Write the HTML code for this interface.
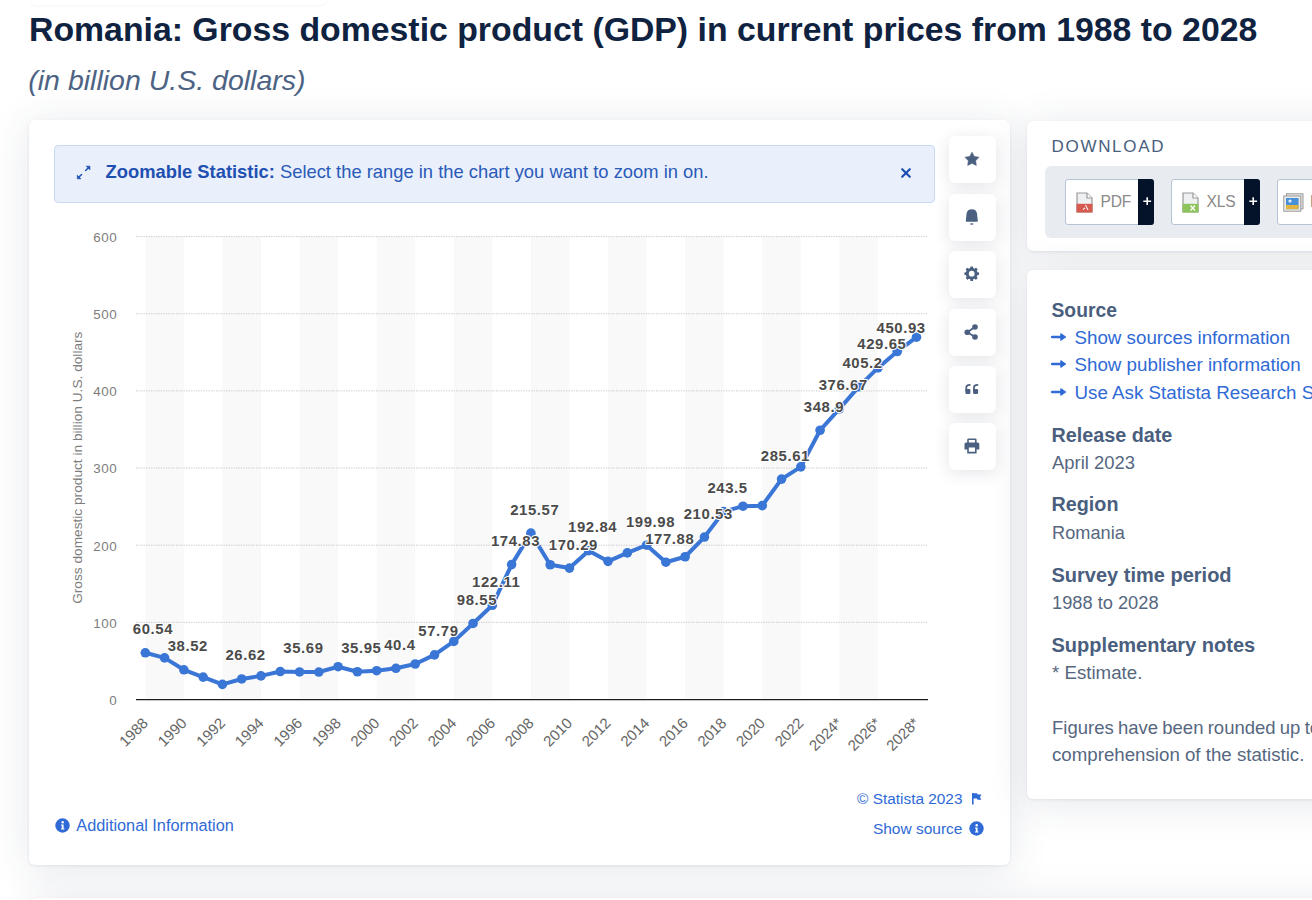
<!DOCTYPE html>
<html><head><meta charset="utf-8"><style>
html,body{margin:0;padding:0;}
body{width:1312px;height:900px;overflow:hidden;position:relative;background:#ffffff;font-family:"Liberation Sans",sans-serif;}
.t{position:absolute;white-space:nowrap;font-family:"Liberation Sans",sans-serif;}
.ab{position:absolute;overflow:visible;}
.card{position:absolute;background:#fff;border-radius:6px;box-shadow:0 1px 3px rgba(40,55,90,0.09), 0 4px 40px rgba(40,55,90,0.12);}
.chart{position:absolute;left:0;top:0;font-family:"Liberation Sans",sans-serif;}
.zoom{position:absolute;left:54px;top:145px;width:879px;height:56px;background:#e9f0fc;border:1px solid #c8d9f4;border-radius:4px;}
.sbtn{position:absolute;left:949px;width:47px;height:47px;background:#fff;border-radius:6px;box-shadow:0 3px 16px rgba(30,40,70,0.12);}
.sbtn svg{position:absolute;left:0;top:0;}
.grey{position:absolute;left:1045px;top:166px;width:400px;height:72px;background:#e8ebef;border-radius:6px;}
.dlb{position:absolute;top:179.3px;height:44px;background:#fff;border:1px solid #b7c4d6;border-radius:3px;}
.dlp{position:absolute;top:179.3px;height:46px;background:#04132a;border-radius:0 3px 3px 0;}
.dlp svg{position:absolute;left:0;top:0;}
</style></head><body>
<div style="position:absolute;left:31px;top:-40px;width:295px;height:45px;background:#fff;border-radius:5px;box-shadow:0 1px 3px rgba(30,40,70,0.05)"></div>
<div class="t" style="left:29.00px;top:13.29px;font-size:33.8px;line-height:33.8px;color:#0f2240;font-weight:bold;font-style:normal;">Romania: Gross domestic product (GDP) in current prices from 1988 to 2028</div>

<div class="t" style="left:28.30px;top:65.77px;font-size:28.5px;line-height:28.5px;color:#4d6384;font-weight:normal;font-style:italic;">(in billion U.S. dollars)</div>

<div class="card" style="left:29px;top:120px;width:981px;height:745px"></div>
<div class="card" style="left:1027px;top:121px;width:400px;height:130px"></div>
<div class="card" style="left:1027px;top:269.7px;width:400px;height:529px"></div>
<div class="card" style="left:30px;top:898px;width:1400px;height:100px"></div>
<div class="zoom"></div>
<svg class="ab" style="left:76px;top:165px" width="16" height="16" viewBox="0 0 16 16"><g fill="#1d4fb2" stroke="#1d4fb2" stroke-linejoin="round"><path d="M10.3 1.2 L13.9 1.2 L13.9 4.8 Z" stroke-width="0.7"/><path d="M12.2 2.9 L9.6 5.5" stroke-width="1.45" stroke-linecap="round"/><path d="M1.3 10.2 L1.3 13.8 L4.9 13.8 Z" stroke-width="0.7"/><path d="M3 12.1 L5.6 9.5" stroke-width="1.45" stroke-linecap="round"/></g></svg>
<div class="t" style="left:105.50px;top:163.04px;font-size:18.38px;line-height:18.38px;color:#2a5ab8;font-weight:normal;font-style:normal;"><b style=color:#1f4fb1>Zoomable Statistic:</b> Select the range in the chart you want to zoom in on.</div>

<svg class="ab" style="left:901px;top:167.5px" width="10" height="10" viewBox="0 0 10 10"><path d="M1.2 1.2 L8.8 8.8 M8.8 1.2 L1.2 8.8" stroke="#1d4fb2" stroke-width="2.2" stroke-linecap="round"/></svg>
<svg class="chart" width="1312" height="900" viewBox="0 0 1312 900">
<rect x="145.30" y="237" width="38.56" height="461.5" fill="#f9f9f9"/>
<rect x="222.42" y="237" width="38.56" height="461.5" fill="#f9f9f9"/>
<rect x="299.54" y="237" width="38.56" height="461.5" fill="#f9f9f9"/>
<rect x="376.66" y="237" width="38.56" height="461.5" fill="#f9f9f9"/>
<rect x="453.78" y="237" width="38.56" height="461.5" fill="#f9f9f9"/>
<rect x="530.90" y="237" width="38.56" height="461.5" fill="#f9f9f9"/>
<rect x="608.02" y="237" width="38.56" height="461.5" fill="#f9f9f9"/>
<rect x="685.14" y="237" width="38.56" height="461.5" fill="#f9f9f9"/>
<rect x="762.26" y="237" width="38.56" height="461.5" fill="#f9f9f9"/>
<rect x="839.38" y="237" width="38.56" height="461.5" fill="#f9f9f9"/>
<line x1="136" y1="622.35" x2="927" y2="622.35" stroke="#c9c9c9" stroke-width="1" stroke-dasharray="1.3 1.2"/>
<line x1="136" y1="545.20" x2="927" y2="545.20" stroke="#c9c9c9" stroke-width="1" stroke-dasharray="1.3 1.2"/>
<line x1="136" y1="468.05" x2="927" y2="468.05" stroke="#c9c9c9" stroke-width="1" stroke-dasharray="1.3 1.2"/>
<line x1="136" y1="390.90" x2="927" y2="390.90" stroke="#c9c9c9" stroke-width="1" stroke-dasharray="1.3 1.2"/>
<line x1="136" y1="313.75" x2="927" y2="313.75" stroke="#c9c9c9" stroke-width="1" stroke-dasharray="1.3 1.2"/>
<line x1="136" y1="236.60" x2="927" y2="236.60" stroke="#c9c9c9" stroke-width="1" stroke-dasharray="1.3 1.2"/>
<line x1="136" y1="699.7" x2="928" y2="699.7" stroke="#1c1c1c" stroke-width="1.3"/>
<text x="117.2" y="704.90" text-anchor="end" font-size="13.4" letter-spacing="0.5" fill="#7d7d7d">0</text>
<text x="117.2" y="627.75" text-anchor="end" font-size="13.4" letter-spacing="0.5" fill="#7d7d7d">100</text>
<text x="117.2" y="550.60" text-anchor="end" font-size="13.4" letter-spacing="0.5" fill="#7d7d7d">200</text>
<text x="117.2" y="473.45" text-anchor="end" font-size="13.4" letter-spacing="0.5" fill="#7d7d7d">300</text>
<text x="117.2" y="396.30" text-anchor="end" font-size="13.4" letter-spacing="0.5" fill="#7d7d7d">400</text>
<text x="117.2" y="319.15" text-anchor="end" font-size="13.4" letter-spacing="0.5" fill="#7d7d7d">500</text>
<text x="117.2" y="242.00" text-anchor="end" font-size="13.4" letter-spacing="0.5" fill="#7d7d7d">600</text>
<text transform="translate(81.6 467.7) rotate(-90)" text-anchor="middle" font-size="13.7" fill="#7d7d7d">Gross domestic product in billion U.S. dollars</text>
<text transform="translate(149.00 724) rotate(-45)" text-anchor="end" font-size="15" fill="#666">1988</text>
<text transform="translate(187.56 724) rotate(-45)" text-anchor="end" font-size="15" fill="#666">1990</text>
<text transform="translate(226.12 724) rotate(-45)" text-anchor="end" font-size="15" fill="#666">1992</text>
<text transform="translate(264.68 724) rotate(-45)" text-anchor="end" font-size="15" fill="#666">1994</text>
<text transform="translate(303.24 724) rotate(-45)" text-anchor="end" font-size="15" fill="#666">1996</text>
<text transform="translate(341.80 724) rotate(-45)" text-anchor="end" font-size="15" fill="#666">1998</text>
<text transform="translate(380.36 724) rotate(-45)" text-anchor="end" font-size="15" fill="#666">2000</text>
<text transform="translate(418.92 724) rotate(-45)" text-anchor="end" font-size="15" fill="#666">2002</text>
<text transform="translate(457.48 724) rotate(-45)" text-anchor="end" font-size="15" fill="#666">2004</text>
<text transform="translate(496.04 724) rotate(-45)" text-anchor="end" font-size="15" fill="#666">2006</text>
<text transform="translate(534.60 724) rotate(-45)" text-anchor="end" font-size="15" fill="#666">2008</text>
<text transform="translate(573.16 724) rotate(-45)" text-anchor="end" font-size="15" fill="#666">2010</text>
<text transform="translate(611.72 724) rotate(-45)" text-anchor="end" font-size="15" fill="#666">2012</text>
<text transform="translate(650.28 724) rotate(-45)" text-anchor="end" font-size="15" fill="#666">2014</text>
<text transform="translate(688.84 724) rotate(-45)" text-anchor="end" font-size="15" fill="#666">2016</text>
<text transform="translate(727.40 724) rotate(-45)" text-anchor="end" font-size="15" fill="#666">2018</text>
<text transform="translate(765.96 724) rotate(-45)" text-anchor="end" font-size="15" fill="#666">2020</text>
<text transform="translate(804.52 724) rotate(-45)" text-anchor="end" font-size="15" fill="#666">2022</text>
<text transform="translate(843.08 724) rotate(-45)" text-anchor="end" font-size="15" fill="#666">2024*</text>
<text transform="translate(881.64 724) rotate(-45)" text-anchor="end" font-size="15" fill="#666">2026*</text>
<text transform="translate(920.20 724) rotate(-45)" text-anchor="end" font-size="15" fill="#666">2028*</text>
<polyline points="145.30,652.78 164.58,657.91 183.86,669.77 203.14,677.12 222.42,684.37 241.70,678.96 260.98,675.89 280.26,671.56 299.54,671.96 318.82,672.03 338.10,666.70 357.38,671.76 376.66,670.72 395.94,668.32 415.22,664.00 434.50,654.90 453.78,641.39 473.06,623.45 492.34,605.27 511.62,564.58 530.90,533.14 550.18,564.76 569.46,568.09 588.74,550.69 608.02,561.37 627.30,552.88 646.58,545.18 665.86,562.23 685.14,556.74 704.42,537.03 723.70,511.59 742.98,506.19 762.26,505.65 781.54,479.09 800.82,466.83 820.10,430.25 839.38,408.82 858.66,386.81 877.94,367.94 897.22,351.52 916.50,337.19" fill="none" stroke="#3a76d6" stroke-width="4" stroke-linejoin="round" stroke-linecap="round"/>
<circle cx="145.30" cy="652.78" r="4.8" fill="#3a76d6"/>
<circle cx="164.58" cy="657.91" r="4.8" fill="#3a76d6"/>
<circle cx="183.86" cy="669.77" r="4.8" fill="#3a76d6"/>
<circle cx="203.14" cy="677.12" r="4.8" fill="#3a76d6"/>
<circle cx="222.42" cy="684.37" r="4.8" fill="#3a76d6"/>
<circle cx="241.70" cy="678.96" r="4.8" fill="#3a76d6"/>
<circle cx="260.98" cy="675.89" r="4.8" fill="#3a76d6"/>
<circle cx="280.26" cy="671.56" r="4.8" fill="#3a76d6"/>
<circle cx="299.54" cy="671.96" r="4.8" fill="#3a76d6"/>
<circle cx="318.82" cy="672.03" r="4.8" fill="#3a76d6"/>
<circle cx="338.10" cy="666.70" r="4.8" fill="#3a76d6"/>
<circle cx="357.38" cy="671.76" r="4.8" fill="#3a76d6"/>
<circle cx="376.66" cy="670.72" r="4.8" fill="#3a76d6"/>
<circle cx="395.94" cy="668.32" r="4.8" fill="#3a76d6"/>
<circle cx="415.22" cy="664.00" r="4.8" fill="#3a76d6"/>
<circle cx="434.50" cy="654.90" r="4.8" fill="#3a76d6"/>
<circle cx="453.78" cy="641.39" r="4.8" fill="#3a76d6"/>
<circle cx="473.06" cy="623.45" r="4.8" fill="#3a76d6"/>
<circle cx="492.34" cy="605.27" r="4.8" fill="#3a76d6"/>
<circle cx="511.62" cy="564.58" r="4.8" fill="#3a76d6"/>
<circle cx="530.90" cy="533.14" r="4.8" fill="#3a76d6"/>
<circle cx="550.18" cy="564.76" r="4.8" fill="#3a76d6"/>
<circle cx="569.46" cy="568.09" r="4.8" fill="#3a76d6"/>
<circle cx="588.74" cy="550.69" r="4.8" fill="#3a76d6"/>
<circle cx="608.02" cy="561.37" r="4.8" fill="#3a76d6"/>
<circle cx="627.30" cy="552.88" r="4.8" fill="#3a76d6"/>
<circle cx="646.58" cy="545.18" r="4.8" fill="#3a76d6"/>
<circle cx="665.86" cy="562.23" r="4.8" fill="#3a76d6"/>
<circle cx="685.14" cy="556.74" r="4.8" fill="#3a76d6"/>
<circle cx="704.42" cy="537.03" r="4.8" fill="#3a76d6"/>
<circle cx="723.70" cy="511.59" r="4.8" fill="#3a76d6"/>
<circle cx="742.98" cy="506.19" r="4.8" fill="#3a76d6"/>
<circle cx="762.26" cy="505.65" r="4.8" fill="#3a76d6"/>
<circle cx="781.54" cy="479.09" r="4.8" fill="#3a76d6"/>
<circle cx="800.82" cy="466.83" r="4.8" fill="#3a76d6"/>
<circle cx="820.10" cy="430.25" r="4.8" fill="#3a76d6"/>
<circle cx="839.38" cy="408.82" r="4.8" fill="#3a76d6"/>
<circle cx="858.66" cy="386.81" r="4.8" fill="#3a76d6"/>
<circle cx="877.94" cy="367.94" r="4.8" fill="#3a76d6"/>
<circle cx="897.22" cy="351.52" r="4.8" fill="#3a76d6"/>
<circle cx="916.50" cy="337.19" r="4.8" fill="#3a76d6"/>
<text x="153.00" y="634.28" text-anchor="middle" font-size="14.9" letter-spacing="0.6" font-weight="bold" fill="#4b4b4b" stroke="#fff" stroke-width="2" paint-order="stroke" stroke-linejoin="round">60.54</text>
<text x="187.76" y="651.27" text-anchor="middle" font-size="14.9" letter-spacing="0.6" font-weight="bold" fill="#4b4b4b" stroke="#fff" stroke-width="2" paint-order="stroke" stroke-linejoin="round">38.52</text>
<text x="245.60" y="660.46" text-anchor="middle" font-size="14.9" letter-spacing="0.6" font-weight="bold" fill="#4b4b4b" stroke="#fff" stroke-width="2" paint-order="stroke" stroke-linejoin="round">26.62</text>
<text x="303.44" y="653.46" text-anchor="middle" font-size="14.9" letter-spacing="0.6" font-weight="bold" fill="#4b4b4b" stroke="#fff" stroke-width="2" paint-order="stroke" stroke-linejoin="round">35.69</text>
<text x="361.28" y="653.26" text-anchor="middle" font-size="14.9" letter-spacing="0.6" font-weight="bold" fill="#4b4b4b" stroke="#fff" stroke-width="2" paint-order="stroke" stroke-linejoin="round">35.95</text>
<text x="399.84" y="649.82" text-anchor="middle" font-size="14.9" letter-spacing="0.6" font-weight="bold" fill="#4b4b4b" stroke="#fff" stroke-width="2" paint-order="stroke" stroke-linejoin="round">40.4</text>
<text x="438.40" y="636.40" text-anchor="middle" font-size="14.9" letter-spacing="0.6" font-weight="bold" fill="#4b4b4b" stroke="#fff" stroke-width="2" paint-order="stroke" stroke-linejoin="round">57.79</text>
<text x="476.96" y="604.95" text-anchor="middle" font-size="14.9" letter-spacing="0.6" font-weight="bold" fill="#4b4b4b" stroke="#fff" stroke-width="2" paint-order="stroke" stroke-linejoin="round">98.55</text>
<text x="496.24" y="586.77" text-anchor="middle" font-size="14.9" letter-spacing="0.6" font-weight="bold" fill="#4b4b4b" stroke="#fff" stroke-width="2" paint-order="stroke" stroke-linejoin="round">122.11</text>
<text x="515.52" y="546.08" text-anchor="middle" font-size="14.9" letter-spacing="0.6" font-weight="bold" fill="#4b4b4b" stroke="#fff" stroke-width="2" paint-order="stroke" stroke-linejoin="round">174.83</text>
<text x="534.80" y="514.64" text-anchor="middle" font-size="14.9" letter-spacing="0.6" font-weight="bold" fill="#4b4b4b" stroke="#fff" stroke-width="2" paint-order="stroke" stroke-linejoin="round">215.57</text>
<text x="573.36" y="549.59" text-anchor="middle" font-size="14.9" letter-spacing="0.6" font-weight="bold" fill="#4b4b4b" stroke="#fff" stroke-width="2" paint-order="stroke" stroke-linejoin="round">170.29</text>
<text x="592.64" y="532.19" text-anchor="middle" font-size="14.9" letter-spacing="0.6" font-weight="bold" fill="#4b4b4b" stroke="#fff" stroke-width="2" paint-order="stroke" stroke-linejoin="round">192.84</text>
<text x="650.48" y="526.68" text-anchor="middle" font-size="14.9" letter-spacing="0.6" font-weight="bold" fill="#4b4b4b" stroke="#fff" stroke-width="2" paint-order="stroke" stroke-linejoin="round">199.98</text>
<text x="669.76" y="543.73" text-anchor="middle" font-size="14.9" letter-spacing="0.6" font-weight="bold" fill="#4b4b4b" stroke="#fff" stroke-width="2" paint-order="stroke" stroke-linejoin="round">177.88</text>
<text x="708.32" y="518.53" text-anchor="middle" font-size="14.9" letter-spacing="0.6" font-weight="bold" fill="#4b4b4b" stroke="#fff" stroke-width="2" paint-order="stroke" stroke-linejoin="round">210.53</text>
<text x="727.60" y="493.09" text-anchor="middle" font-size="14.9" letter-spacing="0.6" font-weight="bold" fill="#4b4b4b" stroke="#fff" stroke-width="2" paint-order="stroke" stroke-linejoin="round">243.5</text>
<text x="785.44" y="460.59" text-anchor="middle" font-size="14.9" letter-spacing="0.6" font-weight="bold" fill="#4b4b4b" stroke="#fff" stroke-width="2" paint-order="stroke" stroke-linejoin="round">285.61</text>
<text x="824.00" y="411.75" text-anchor="middle" font-size="14.9" letter-spacing="0.6" font-weight="bold" fill="#4b4b4b" stroke="#fff" stroke-width="2" paint-order="stroke" stroke-linejoin="round">348.9</text>
<text x="843.28" y="390.32" text-anchor="middle" font-size="14.9" letter-spacing="0.6" font-weight="bold" fill="#4b4b4b" stroke="#fff" stroke-width="2" paint-order="stroke" stroke-linejoin="round">376.67</text>
<text x="862.56" y="368.31" text-anchor="middle" font-size="14.9" letter-spacing="0.6" font-weight="bold" fill="#4b4b4b" stroke="#fff" stroke-width="2" paint-order="stroke" stroke-linejoin="round">405.2</text>
<text x="881.84" y="349.44" text-anchor="middle" font-size="14.9" letter-spacing="0.6" font-weight="bold" fill="#4b4b4b" stroke="#fff" stroke-width="2" paint-order="stroke" stroke-linejoin="round">429.65</text>
<text x="901.12" y="333.02" text-anchor="middle" font-size="14.9" letter-spacing="0.6" font-weight="bold" fill="#4b4b4b" stroke="#fff" stroke-width="2" paint-order="stroke" stroke-linejoin="round">450.93</text>
</svg>
<div class="sbtn" style="top:136.20px"><svg width="47" height="47" viewBox="0 0 47 47"><polygon fill="#4b6080" stroke="#4b6080" stroke-width="0.6" stroke-linejoin="round" points="23.00,16.20 25.26,20.39 29.94,21.24 26.66,24.69 27.29,29.41 23.00,27.35 18.71,29.41 19.34,24.69 16.06,21.24 20.74,20.39"/></svg></div>
<div class="sbtn" style="top:193.65px"><svg width="47" height="47" viewBox="0 0 47 47"><path fill="#4b6080" d="M16.8 27 L17.6 19.5 C17.9 16.9 20 15.35 22.8 15.35 C25.6 15.35 27.7 16.9 28 19.5 L28.8 27 Q28.8 27.75 28 27.75 L17.6 27.75 Q16.8 27.75 16.8 27 Z"/><ellipse cx="22.8" cy="29.95" rx="1.8" ry="0.75" fill="#4b6080"/></svg></div>
<div class="sbtn" style="top:251.10px"><svg width="47" height="47" viewBox="0 0 47 47"><circle cx="22.7" cy="22.7" r="5.9" fill="#4b6080"/><rect x="21.3" y="15.4" width="2.8" height="3" rx="0.6" fill="#4b6080" transform="rotate(0 22.7 22.7)"/><rect x="21.3" y="15.4" width="2.8" height="3" rx="0.6" fill="#4b6080" transform="rotate(45 22.7 22.7)"/><rect x="21.3" y="15.4" width="2.8" height="3" rx="0.6" fill="#4b6080" transform="rotate(90 22.7 22.7)"/><rect x="21.3" y="15.4" width="2.8" height="3" rx="0.6" fill="#4b6080" transform="rotate(135 22.7 22.7)"/><rect x="21.3" y="15.4" width="2.8" height="3" rx="0.6" fill="#4b6080" transform="rotate(180 22.7 22.7)"/><rect x="21.3" y="15.4" width="2.8" height="3" rx="0.6" fill="#4b6080" transform="rotate(225 22.7 22.7)"/><rect x="21.3" y="15.4" width="2.8" height="3" rx="0.6" fill="#4b6080" transform="rotate(270 22.7 22.7)"/><rect x="21.3" y="15.4" width="2.8" height="3" rx="0.6" fill="#4b6080" transform="rotate(315 22.7 22.7)"/><circle cx="22.7" cy="22.7" r="2.9" fill="#fff"/></svg></div>
<div class="sbtn" style="top:308.55px"><svg width="47" height="47" viewBox="0 0 47 47"><g fill="#4b6080"><circle cx="26" cy="18" r="2.8"/><circle cx="18.3" cy="23.2" r="2.8"/><circle cx="26" cy="28" r="2.8"/></g><path d="M26 18 L18.3 23.2 L26 28" fill="none" stroke="#4b6080" stroke-width="1.8"/></svg></div>
<div class="sbtn" style="top:366.00px"><svg width="47" height="47" viewBox="0 0 47 47"><rect x="16.40" y="23.1" width="5" height="4.9" rx="1.1" fill="#4b6080"/><path d="M17.25 24.5 L17.25 21.6 Q17.25 18.95 20.80 18.95" fill="none" stroke="#4b6080" stroke-width="1.75" stroke-linecap="round"/><rect x="24.10" y="23.1" width="5" height="4.9" rx="1.1" fill="#4b6080"/><path d="M24.95 24.5 L24.95 21.6 Q24.95 18.95 28.50 18.95" fill="none" stroke="#4b6080" stroke-width="1.75" stroke-linecap="round"/></svg></div>
<div class="sbtn" style="top:423.45px"><svg width="47" height="47" viewBox="0 0 47 47"><g fill="#4b6080"><path d="M18.2 20.5 L18.2 16.8 Q18.2 15.4 19.6 15.4 L26.2 15.4 Q27.6 15.4 27.6 16.8 L27.6 20.5 L26 20.5 L26 17 L19.8 17 L19.8 20.5 Z"/><path d="M17 19.5 L28.8 19.5 Q30.3 19.5 30.3 21 L30.3 26.4 L27.6 26.4 L27.6 30.4 L18.2 30.4 L18.2 26.4 L15.5 26.4 L15.5 21 Q15.5 19.5 17 19.5 Z M19.8 24.6 L19.8 28.8 L26 28.8 L26 24.6 Z" fill-rule="evenodd"/></g></svg></div>

<svg class="ab" style="left:54.50px;top:818.10px" width="15" height="15" viewBox="0 0 15 15"><circle cx="7.5" cy="7.5" r="7.2" fill="#2f6ad6"/><circle cx="7.7" cy="4.2" r="1.2" fill="#fff"/><path d="M6 6.4 L8.6 6.4 L8.6 10.4 L9.4 10.4 L9.4 11.6 L6 11.6 L6 10.4 L6.8 10.4 L6.8 7.6 L6 7.6 Z" fill="#fff"/></svg>
<div class="t" style="left:76.30px;top:817.40px;font-size:16.3px;line-height:16.3px;color:#2f6ad6;font-weight:normal;font-style:normal;">Additional Information</div>

<div class="t" style="right:349.50px;top:790.76px;font-size:15.4px;line-height:15.4px;color:#2f6ad6;font-weight:normal;font-style:normal;">© Statista 2023</div>

<svg class="ab" style="left:971px;top:792px" width="12" height="13" viewBox="0 0 12 13"><path d="M1.8 1 L1.8 12.5" stroke="#2f6ad6" stroke-width="1.6"/><path d="M2 1.2 L6 1.2 L6.8 2.6 L10.4 2.6 L9 5.2 L10.4 7.8 L6.6 7.8 L5.8 6.6 L2 6.6 Z" fill="#2f6ad6"/></svg>
<div class="t" style="right:349.50px;top:820.58px;font-size:15.5px;line-height:15.5px;color:#2f6ad6;font-weight:normal;font-style:normal;">Show source</div>

<svg class="ab" style="left:969.10px;top:820.50px" width="15" height="15" viewBox="0 0 15 15"><circle cx="7.5" cy="7.5" r="7.2" fill="#2f6ad6"/><circle cx="7.7" cy="4.2" r="1.2" fill="#fff"/><path d="M6 6.4 L8.6 6.4 L8.6 10.4 L9.4 10.4 L9.4 11.6 L6 11.6 L6 10.4 L6.8 10.4 L6.8 7.6 L6 7.6 Z" fill="#fff"/></svg>
<div class="t" style="left:1051.50px;top:137.61px;font-size:17px;line-height:17px;color:#4a5e7e;font-weight:normal;font-style:normal;letter-spacing:1.7px">DOWNLOAD</div>

<div class="grey"></div>
<div class="dlb" style="left:1065.30px;width:86.70px"></div><div class="dlp" style="left:1138.00px;width:16.00px"><svg width="16.00" height="46" viewBox="0 0 16.00 46"><path d="M9.20 18.3 L9.20 26.1 M5.30 22.2 L13.10 22.2" stroke="#fff" stroke-width="1.6"/></svg></div><svg class="ab" style="left:1075.5px;top:191.5px" width="17" height="21" viewBox="0 0 17 21"><path d="M1 1 L11 1 L16 6 L16 20 L1 20 Z" fill="#eef0f2" stroke="#9a9a9a" stroke-width="1.2"/><path d="M11 1 L11 6 L16 6" fill="#fff" stroke="#9a9a9a" stroke-width="1.2"/><rect x="0.5" y="11.8" width="16" height="8.7" fill="#d65a50"/><path d="M9.5 13 L12 18 M7 17.5 L9 16" stroke="#fff" stroke-width="1.1" opacity="0.9"/></svg><div class="t" style="left:1100.50px;top:194.29px;font-size:15.6px;line-height:15.6px;color:#8a8a8a;font-weight:normal;font-style:normal;letter-spacing:-0.2px">PDF</div>

<div class="dlb" style="left:1171.00px;width:86.60px"></div><div class="dlp" style="left:1243.60px;width:16.00px"><svg width="16.00" height="46" viewBox="0 0 16.00 46"><path d="M9.20 18.3 L9.20 26.1 M5.30 22.2 L13.10 22.2" stroke="#fff" stroke-width="1.6"/></svg></div><svg class="ab" style="left:1182px;top:192px" width="17" height="21" viewBox="0 0 17 21"><path d="M1 1 L11 1 L16 6 L16 20 L1 20 Z" fill="#eef0f2" stroke="#9a9a9a" stroke-width="1.2"/><path d="M11 1 L11 6 L16 6" fill="#fff" stroke="#9a9a9a" stroke-width="1.2"/><rect x="0.5" y="11.8" width="16" height="8.7" fill="#8cc35a"/><path d="M8.5 13.5 L13 18.5 M13 13.5 L8.5 18.5" stroke="#fff" stroke-width="1.3"/></svg><div class="t" style="left:1206.50px;top:194.29px;font-size:15.6px;line-height:15.6px;color:#8a8a8a;font-weight:normal;font-style:normal;letter-spacing:-0.2px">XLS</div>

<div class="dlb" style="left:1276.6px;width:100px"></div>
<svg class="ab" style="left:1282.5px;top:193px" width="21" height="19" viewBox="0 0 21 19"><rect x="3.5" y="0.8" width="16.5" height="15" fill="#e5e5e5" stroke="#999" stroke-width="1"/><rect x="0.8" y="3" width="17" height="15.2" fill="#ececec" stroke="#999" stroke-width="1"/><rect x="3" y="5" width="12.6" height="11.2" fill="#4a90d9"/><rect x="3" y="12" width="12.6" height="4.2" fill="#e2b540"/><circle cx="7" cy="8" r="1.6" fill="#dfefff"/></svg>
<div class="t" style="left:1310.00px;top:194.29px;font-size:15.6px;line-height:15.6px;color:#8a8a8a;font-weight:normal;font-style:normal;">P</div>

<div class="t" style="left:1051.50px;top:301.16px;font-size:19.3px;line-height:19.3px;color:#4a5e7e;font-weight:bold;font-style:normal;">Source</div>

<svg class="ab" style="left:1051px;top:331.60px" width="16" height="10" viewBox="0 0 16 10"><path d="M1.2 5 L10.5 5" stroke="#2f6ad6" stroke-width="2.6" stroke-linecap="round"/><path d="M9.8 1.6 L14.8 5 L9.8 8.4 Z" fill="#2f6ad6" stroke="#2f6ad6" stroke-width="1" stroke-linejoin="round"/></svg>
<div class="t" style="left:1074.50px;top:328.93px;font-size:18.75px;line-height:18.75px;color:#2f6ad6;font-weight:normal;font-style:normal;">Show sources information</div>

<svg class="ab" style="left:1051px;top:359.00px" width="16" height="10" viewBox="0 0 16 10"><path d="M1.2 5 L10.5 5" stroke="#2f6ad6" stroke-width="2.6" stroke-linecap="round"/><path d="M9.8 1.6 L14.8 5 L9.8 8.4 Z" fill="#2f6ad6" stroke="#2f6ad6" stroke-width="1" stroke-linejoin="round"/></svg>
<div class="t" style="left:1074.50px;top:356.33px;font-size:18.75px;line-height:18.75px;color:#2f6ad6;font-weight:normal;font-style:normal;">Show publisher information</div>

<svg class="ab" style="left:1051px;top:386.60px" width="16" height="10" viewBox="0 0 16 10"><path d="M1.2 5 L10.5 5" stroke="#2f6ad6" stroke-width="2.6" stroke-linecap="round"/><path d="M9.8 1.6 L14.8 5 L9.8 8.4 Z" fill="#2f6ad6" stroke="#2f6ad6" stroke-width="1" stroke-linejoin="round"/></svg>
<div class="t" style="left:1074.50px;top:383.73px;font-size:18.75px;line-height:18.75px;color:#2f6ad6;font-weight:normal;font-style:normal;">Use Ask Statista Research Service</div>

<div class="t" style="left:1051.50px;top:425.56px;font-size:19.77px;line-height:19.77px;color:#4a5e7e;font-weight:bold;font-style:normal;">Release date</div>

<div class="t" style="left:1052.00px;top:454.20px;font-size:18.43px;line-height:18.43px;color:#56677f;font-weight:normal;font-style:normal;">April 2023</div>

<div class="t" style="left:1051.50px;top:495.36px;font-size:19.77px;line-height:19.77px;color:#4a5e7e;font-weight:bold;font-style:normal;">Region</div>

<div class="t" style="left:1052.00px;top:523.99px;font-size:18.2px;line-height:18.2px;color:#56677f;font-weight:normal;font-style:normal;">Romania</div>

<div class="t" style="left:1051.50px;top:565.37px;font-size:20.0px;line-height:20.0px;color:#4a5e7e;font-weight:bold;font-style:normal;">Survey time period</div>

<div class="t" style="left:1052.00px;top:593.65px;font-size:18.25px;line-height:18.25px;color:#56677f;font-weight:normal;font-style:normal;">1988 to 2028</div>

<div class="t" style="left:1051.50px;top:635.33px;font-size:20.05px;line-height:20.05px;color:#4a5e7e;font-weight:bold;font-style:normal;">Supplementary notes</div>

<div class="t" style="left:1052.00px;top:663.87px;font-size:18.7px;line-height:18.7px;color:#56677f;font-weight:normal;font-style:normal;">* Estimate.</div>

<div class="t" style="left:1052.00px;top:719.14px;font-size:18.5px;line-height:18.5px;color:#56677f;font-weight:normal;font-style:normal;word-spacing:-0.9px">Figures have been rounded up to improve</div>

<div class="t" style="left:1052.00px;top:746.37px;font-size:18.7px;line-height:18.7px;color:#56677f;font-weight:normal;font-style:normal;">comprehension of the statistic.</div>

</body></html>
